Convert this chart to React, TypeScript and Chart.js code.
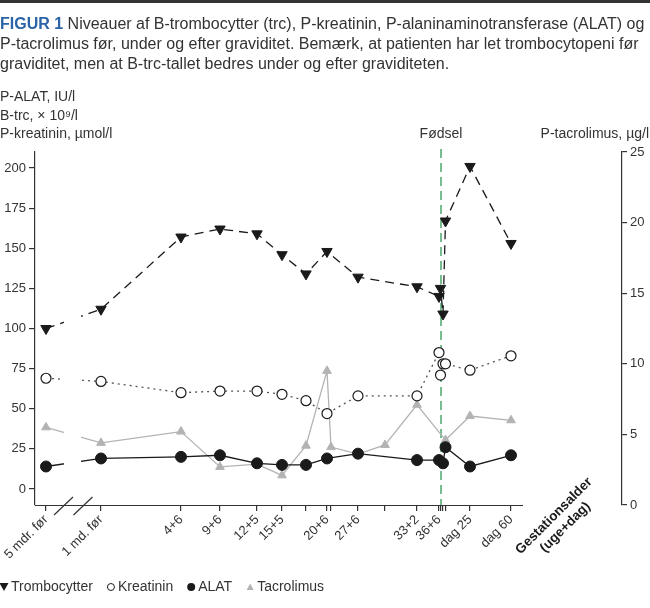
import React, { useEffect, useRef } from 'react';
import { Chart, registerables } from 'chart.js';

Chart.register(...registerables);

// ---- Data ----
// x positions along the (non-linear) time line, in timeline units
const tickPositions = [2.2, 13.2, 29.2, 37, 44.4, 49.4, 54.2, 58.4, 59.2, 64.6, 70, 76.4, 80.8, 81.1, 81.6, 82.1, 87, 95.2];
const tickLabels = ['5 mdr. før', '1 md. før', '4+6', '9+6', '12+5', '15+5', '', '20+6', '', '27+6', '', '33+2', '36+6', '', '', '', 'dag 25', 'dag 60'];

const trcX = [2.2, 13.2, 29.2, 37, 44.4, 49.4, 54.2, 58.4, 64.6, 76.4, 80.8, 81.1, 81.6, 82.1, 87, 95.2];
const trcValues = [100, 112, 157, 162, 159, 146, 134, 148, 132, 126, 120, 125, 109, 167, 201, 153];

const kreatX = [2.2, 13.2, 29.2, 37, 44.4, 49.4, 54.2, 58.4, 64.6, 76.4, 80.8, 81.1, 81.6, 82.1, 87, 95.2];
const kreatValues = [69, 67, 60, 61, 61, 59, 55, 47, 58, 58, 85, 71, 78, 78, 74, 83];

const alatX = [2.2, 13.2, 29.2, 37, 44.4, 49.4, 54.2, 58.4, 64.6, 76.4, 80.8, 81.6, 82.1, 87, 95.2];
const alatValues = [14, 19, 20, 21, 16, 15, 15, 19, 22, 18, 18, 16, 26, 14, 21];

const tacroX = [2.2, 13.2, 29.2, 37, 44.4, 49.4, 54.2, 58.4, 59.2, 64.6, 70, 76.4, 82.1, 87, 95.2];
const tacroValues = [5.5, 4.4, 5.2, 2.7, 2.9, 2.1, 4.2, 9.5, 4.1, 3.6, 4.25, 7.1, 4.6, 6.3, 6.0];

const leftTicks = [0, 25, 50, 75, 100, 125, 150, 175, 200];
const rightTicks = [0, 5, 10, 15, 20, 25];

const birthX = 81.2;
const breakStart = 5.8;
const breakEnd = 9.2;
const xAxisEnd = 97.6;

const seriesNames = ['Trombocytter', 'Kreatinin', 'ALAT', 'Tacrolimus'];

const FONT = "'Liberation Sans', Arial, Helvetica, sans-serif";
const TEXT = '#333333';
const BLACK = '#1a1a1a';
const GRAY = '#b3b3b3';
const GREEN = '#2f9a55';

const pts = (xs: number[], ys: number[]) => xs.map((x, i) => ({ x, y: ys[i] }));

const overlayPlugin = {
  id: 'overlay',
  beforeDatasetsDraw(chart: any) {
    const { ctx, chartArea, scales } = chart;
    const bx = scales.x.getPixelForValue(birthX);
    ctx.save();
    ctx.strokeStyle = GREEN;
    ctx.lineWidth = 1.3;
    ctx.setLineDash([9, 5]);
    ctx.beginPath();
    ctx.moveTo(bx, chartArea.top - 3);
    ctx.lineTo(bx, chartArea.bottom);
    ctx.stroke();
    ctx.restore();
  },
  afterDatasetsDraw(chart: any) {
    const { ctx, chartArea, scales } = chart;
    const x = scales.x;
    const g0 = x.getPixelForValue(breakStart);
    const g1 = x.getPixelForValue(breakEnd);
    ctx.save();
    // axis break gap
    ctx.fillStyle = '#ffffff';
    ctx.fillRect(g0, chartArea.top, g1 - g0, chartArea.bottom - chartArea.top - 1);
    // x axis line (partial)
    ctx.strokeStyle = TEXT;
    ctx.lineWidth = 1.2;
    ctx.beginPath();
    ctx.moveTo(chartArea.left, chartArea.bottom + 0.5);
    ctx.lineTo(x.getPixelForValue(xAxisEnd), chartArea.bottom + 0.5);
    ctx.stroke();
    // break slashes
    const yb = chartArea.bottom + 1;
    [g0 - 0.5, g1 + 2].forEach((cx) => {
      ctx.beginPath();
      ctx.moveTo(cx - 9.5, yb + 9);
      ctx.lineTo(cx + 9.5, yb - 9);
      ctx.stroke();
    });
    ctx.restore();
  },
  afterDraw(chart: any) {
    const { ctx, scales } = chart;
    ctx.save();
    ctx.fillStyle = TEXT;
    ctx.font = `14px ${FONT}`;
    ctx.textBaseline = 'middle';
    ctx.textAlign = 'left';
    ctx.fillText('P-ALAT, IU/l', 0, 97);
    ctx.fillText('B-trc, × 10⁹/l', 0, 116);
    ctx.fillText('P-kreatinin, µmol/l', 0, 134);
    ctx.textAlign = 'center';
    ctx.fillText('Fødsel', scales.x.getPixelForValue(birthX), 134);
    ctx.textAlign = 'right';
    ctx.fillText('P-tacrolimus, µg/l', 649, 134);

    // rotated axis title
    ctx.save();
    ctx.translate(554, 516);
    ctx.rotate(-Math.PI / 4);
    ctx.font = `bold 13.5px ${FONT}`;
    ctx.textAlign = 'center';
    ctx.fillStyle = BLACK;
    ctx.fillText('Gestationsalder', 0, 0);
    ctx.fillText('(uge+dag)', 0, 16);
    ctx.restore();

    // legend
    ctx.font = `14px ${FONT}`;
    ctx.textAlign = 'left';
    ctx.textBaseline = 'middle';
    const ly = 587;
    let lx = 0;
    seriesNames.forEach((name, i) => {
      const cx = lx + 4;
      ctx.beginPath();
      if (i === 0) {
        ctx.fillStyle = BLACK;
        ctx.moveTo(cx - 4.5, ly - 4);
        ctx.lineTo(cx + 4.5, ly - 4);
        ctx.lineTo(cx, ly + 4);
        ctx.closePath();
        ctx.fill();
      } else if (i === 1) {
        ctx.arc(cx, ly, 3.5, 0, Math.PI * 2);
        ctx.fillStyle = '#fff';
        ctx.fill();
        ctx.strokeStyle = BLACK;
        ctx.lineWidth = 1;
        ctx.stroke();
      } else if (i === 2) {
        ctx.arc(cx, ly, 4, 0, Math.PI * 2);
        ctx.fillStyle = BLACK;
        ctx.fill();
      } else {
        ctx.fillStyle = GRAY;
        ctx.moveTo(cx - 3.5, ly + 3);
        ctx.lineTo(cx + 3.5, ly + 3);
        ctx.lineTo(cx, ly - 3.5);
        ctx.closePath();
        ctx.fill();
      }
      ctx.fillStyle = TEXT;
      ctx.fillText(name, lx + 11, ly);
      lx += 11 + ctx.measureText(name).width + 14;
    });
    ctx.restore();
  },
};

export default function App() {
  const canvasRef = useRef<HTMLCanvasElement | null>(null);

  useEffect(() => {
    document.body.style.margin = '0';
    const canvas = canvasRef.current;
    if (!canvas) return;
    const tickFont = { family: FONT, size: 13 };
    const chart = new Chart(canvas, {
      type: 'line',
      data: {
        datasets: [
          {
            label: seriesNames[0],
            data: pts(trcX, trcValues),
            yAxisID: 'yL',
            borderColor: BLACK,
            borderWidth: 1.3,
            borderDash: [9, 6],
            pointStyle: 'triangle',
            rotation: 180,
            pointRadius: 6,
            pointBackgroundColor: BLACK,
            pointBorderColor: BLACK,
            pointBorderWidth: 1,
          },
          {
            label: seriesNames[1],
            data: pts(kreatX, kreatValues),
            yAxisID: 'yL',
            borderColor: '#555555',
            borderWidth: 1.3,
            borderDash: [2, 4],
            pointStyle: 'circle',
            pointRadius: 5,
            pointBackgroundColor: '#ffffff',
            pointBorderColor: BLACK,
            pointBorderWidth: 1.2,
          },
          {
            label: seriesNames[2],
            data: pts(alatX, alatValues),
            yAxisID: 'yL',
            borderColor: BLACK,
            borderWidth: 1.3,
            pointStyle: 'circle',
            pointRadius: 5.5,
            pointBackgroundColor: BLACK,
            pointBorderColor: BLACK,
            pointBorderWidth: 1,
          },
          {
            label: seriesNames[3],
            data: pts(tacroX, tacroValues),
            yAxisID: 'yR',
            borderColor: GRAY,
            borderWidth: 1.3,
            pointStyle: 'triangle',
            pointRadius: 5,
            pointBackgroundColor: GRAY,
            pointBorderColor: GRAY,
            pointBorderWidth: 1,
          },
        ],
      },
      options: {
        animation: false,
        responsive: false,
        devicePixelRatio: 1,
        layout: { padding: { top: 152, left: 0, right: 0, bottom: 0 } },
        plugins: { legend: { display: false }, tooltip: { enabled: false }, title: { display: false } },
        scales: {
          x: {
            type: 'linear',
            min: 0,
            max: 117.4,
            border: { display: false },
            grid: { drawOnChartArea: false, drawTicks: true, tickLength: 6, color: TEXT, lineWidth: 1.2 },
            ticks: {
              autoSkip: false,
              minRotation: 45,
              maxRotation: 45,
              padding: 1,
              color: TEXT,
              font: tickFont,
              callback: (v: any) => {
                const i = tickPositions.indexOf(Number(v));
                return i >= 0 ? tickLabels[i] : '';
              },
            },
            afterBuildTicks: (s: any) => {
              s.ticks = tickPositions.map((value) => ({ value }));
            },
            afterFit: (s: any) => {
              s.height = 103;
              s.paddingLeft = 0;
              s.paddingRight = 0;
            },
          } as any,
          yL: {
            type: 'linear',
            position: 'left',
            min: -10,
            max: 210,
            border: { display: true, color: TEXT, width: 1.2 },
            grid: { drawOnChartArea: false, tickLength: 6, color: TEXT, lineWidth: 1.2 },
            ticks: { color: TEXT, font: tickFont, padding: 3 },
            afterBuildTicks: (s: any) => {
              s.ticks = leftTicks.map((value) => ({ value }));
            },
            afterFit: (s: any) => {
              s.width = 35;
              s.paddingTop = 0;
              s.paddingBottom = 0;
            },
          } as any,
          yR: {
            type: 'linear',
            position: 'right',
            min: 0,
            max: 25,
            border: { display: true, color: TEXT, width: 1.2 },
            grid: { drawOnChartArea: false, tickLength: 5, color: TEXT, lineWidth: 1.2 },
            ticks: { color: TEXT, font: tickFont, padding: 3 },
            afterBuildTicks: (s: any) => {
              s.ticks = rightTicks.map((value) => ({ value }));
            },
            afterFit: (s: any) => {
              s.width = 28;
              s.paddingTop = 0;
              s.paddingBottom = 0;
            },
          } as any,
        },
      },
      plugins: [overlayPlugin],
    });
    return () => chart.destroy();
  }, []);

  const lineStyle: React.CSSProperties = { whiteSpace: 'nowrap', height: 20 };

  return (
    <div style={{ position: 'relative', width: 650, height: 608, background: '#ffffff', overflow: 'hidden' }}>
      <canvas ref={canvasRef} width={650} height={608} style={{ position: 'absolute', left: 0, top: 0 }} />
      <div
        style={{
          position: 'absolute',
          left: 0,
          top: 0,
          width: 650,
          borderTop: '3px solid #333',
          paddingTop: 11,
          fontFamily: FONT,
          fontSize: 16,
          lineHeight: '20px',
          color: TEXT,
        }}
      >
        <div style={lineStyle}>
          <span style={{ color: '#2b64a6', fontWeight: 'bold' }}>FIGUR 1</span> Niveauer af B-trombocytter (trc), P-kreatinin, P-alaninaminotransferase (ALAT) og
        </div>
        <div style={lineStyle}>P-tacrolimus før, under og efter graviditet. Bemærk, at patienten har let trombocytopeni før</div>
        <div style={lineStyle}>graviditet, men at B-trc-tallet bedres under og efter graviditeten.</div>
      </div>
    </div>
  );
}
